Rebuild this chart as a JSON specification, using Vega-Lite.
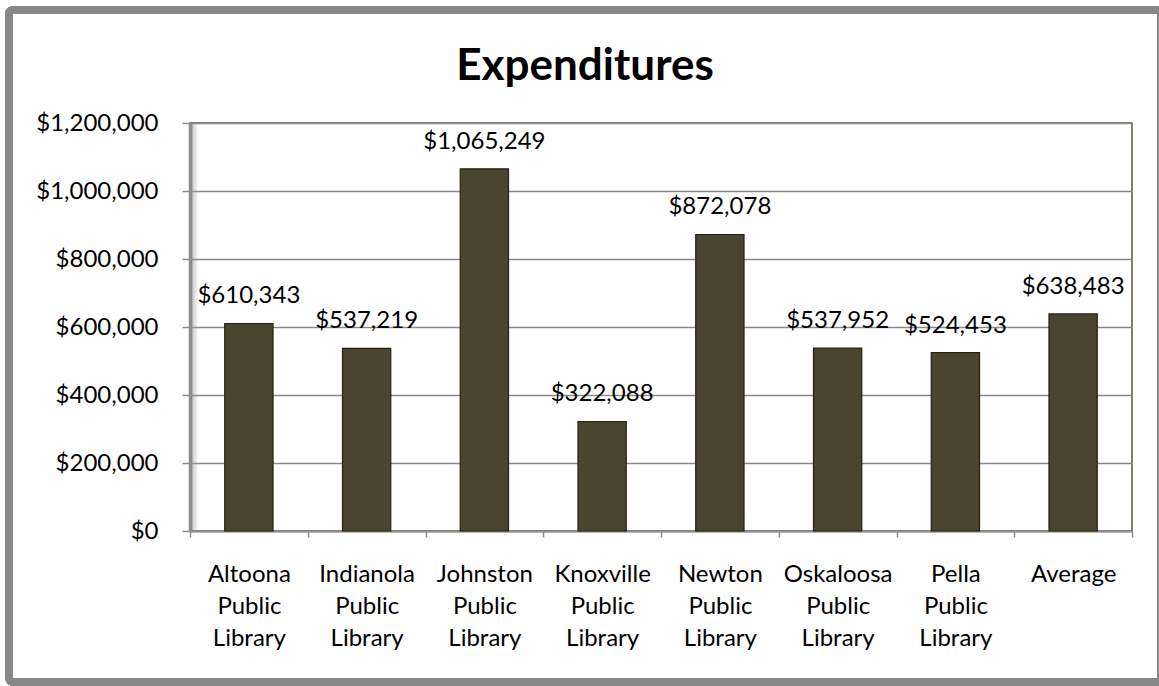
{
  "$schema": "https://vega.github.io/schema/vega-lite/v6.json",
  "autosize": "none",
  "width": 942,
  "height": 408,
  "padding": {"left": 190, "top": 123, "right": 27, "bottom": 155},
  "background": "white",
  "title": {
    "text": "Expenditures",
    "font": "Lato",
    "fontSize": 44,
    "fontWeight": "bold",
    "color": "black",
    "anchor": "middle",
    "frame": "group",
    "baseline": "alphabetic",
    "dx": -76,
    "offset": -117
  },
  "config": {
    "view": {
      "stroke": "#5e5639",
      "strokeWidth": 1.5,
      "fill": {
        "gradient": "linear",
        "x1": 0, "y1": 0, "x2": 1, "y2": 0,
        "stops": [
          {"offset": 0, "color": "#9a9a9a"},
          {"offset": 0.004, "color": "#d8d8d8"},
          {"offset": 0.009, "color": "#ffffff"},
          {"offset": 1, "color": "#ffffff"}
        ]
      }
    },
    "font": "Lato"
  },
  "data": {
    "values": [
      {"library": "Altoona Public Library", "expenditure": 610343},
      {"library": "Indianola Public Library", "expenditure": 537219},
      {"library": "Johnston Public Library", "expenditure": 1065249},
      {"library": "Knoxville Public Library", "expenditure": 322088},
      {"library": "Newton Public Library", "expenditure": 872078},
      {"library": "Oskaloosa Public Library", "expenditure": 537952},
      {"library": "Pella Public Library", "expenditure": 524453},
      {"library": "Average", "expenditure": 638483}
    ]
  },
  "encoding": {
    "x": {
      "field": "library",
      "type": "nominal",
      "sort": null,
      "scale": {"paddingInner": 0, "paddingOuter": 0},
      "axis": {
        "title": null,
        "labelAngle": 0,
        "labelExpr": "split(datum.label, ' ')",
        "labelFont": "Lato",
        "labelFontSize": 24,
        "labelColor": "black",
        "labelLineHeight": 32,
        "labelBaseline": "top",
        "labelPadding": 25,
        "tickBand": "extent",
        "tickSize": 6,
        "tickColor": "#8c8c8c",
        "tickWidth": 1.5,
        "domainColor": "#8c8c8c",
        "domainWidth": 2,
        "grid": false
      }
    },
    "y": {
      "field": "expenditure",
      "type": "quantitative",
      "scale": {"domain": [0, 1200000], "nice": false},
      "axis": {
        "title": null,
        "values": [0, 200000, 400000, 600000, 800000, 1000000, 1200000],
        "format": "$,.0f",
        "labelFont": "Lato",
        "labelFontSize": 24,
        "labelColor": "black",
        "labelPadding": 24,
        "tickSize": 8,
        "tickColor": "#8c8c8c",
        "tickWidth": 1.5,
        "domainColor": "#8c8c8c",
        "domainWidth": 3.5,
        "gridColor": "#8a8a8a",
        "gridWidth": 1.3
      }
    }
  },
  "layer": [
    {
      "mark": {
        "type": "rect",
        "fill": null,
        "stroke": "#878787",
        "strokeWidth": 7,
        "cornerRadius": 3,
        "clip": false
      },
      "encoding": {
        "x": {"value": -181},
        "x2": {"value": 971},
        "y": {"value": -113},
        "y2": {"value": 559}
      }
    },
    {
      "mark": {
        "type": "bar",
        "width": {"band": 0.41},
        "color": "#4b4430",
        "stroke": "#26220f",
        "strokeWidth": 1.2
      }
    },
    {
      "mark": {
        "type": "text",
        "baseline": "alphabetic",
        "dy": -20,
        "font": "Lato",
        "fontSize": 24,
        "color": "black"
      },
      "encoding": {
        "text": {"field": "expenditure", "type": "quantitative", "format": "$,.0f"}
      }
    }
  ]
}
